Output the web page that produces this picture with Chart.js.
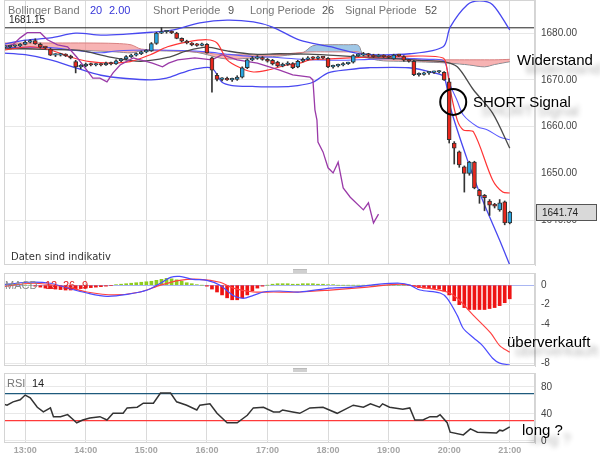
<!DOCTYPE html>
<html>
<head>
<meta charset="utf-8">
<script src="https://cdn.jsdelivr.net/npm/chart.js@4.4.1/dist/chart.umd.min.js"></script>
<style>
  body { margin: 0; background: #fff; }
  #wrap { position: relative; width: 600px; height: 455px; overflow: hidden; font-family: 'Liberation Sans', Arial, sans-serif; }
  canvas { position: absolute; left: 0; }
  .lbl { position: absolute; white-space: nowrap; line-height: 12px; }
  .note { position: absolute; white-space: nowrap; font-size: 15px; line-height: 16px; color: #000;
          text-shadow: 8px 9px 5px rgba(0,0,0,0.3); }
  .handle { position: absolute; left: 293px; width: 14px; height: 3px; background: #d0d0d0; border-top: 1px solid #bbb; }
</style>
</head>
<body>
<div id="wrap">
  <canvas id="main" width="600" height="268" style="top:0"></canvas>
  <canvas id="macd" width="600" height="100" style="top:268px"></canvas>
  <canvas id="rsi" width="600" height="87" style="top:368px"></canvas>

  <div class="lbl" style="left:8px;top:4px;font-size:11px;color:#777">Bollinger Band</div>
  <div class="lbl" style="left:90px;top:4px;font-size:11px;color:#3535d8">20</div>
  <div class="lbl" style="left:109px;top:4px;font-size:11px;color:#3535d8">2.00</div>
  <div class="lbl" style="left:153px;top:4px;font-size:11px;color:#777">Short Periode</div>
  <div class="lbl" style="left:228px;top:4px;font-size:11px;color:#555">9</div>
  <div class="lbl" style="left:250px;top:4px;font-size:11px;color:#777">Long Periode</div>
  <div class="lbl" style="left:322px;top:4px;font-size:11px;color:#555">26</div>
  <div class="lbl" style="left:345px;top:4px;font-size:11px;color:#777">Signal Periode</div>
  <div class="lbl" style="left:425px;top:4px;font-size:11px;color:#555">52</div>
  <div class="lbl" style="left:9px;top:14px;font-size:10px;color:#222">1681.15</div>
  <div class="lbl" style="left:11px;top:251px;font-size:10px;color:#333;font-family:'DejaVu Sans'">Daten sind indikativ</div>

  <div class="lbl" style="left:5px;top:279px;font-size:11px;color:#888">MACD</div>
  <div class="lbl" style="left:45px;top:279px;font-size:11px;color:#e02020">12</div>
  <div class="lbl" style="left:63px;top:279px;font-size:11px;color:#e02020">26</div>
  <div class="lbl" style="left:82px;top:279px;font-size:11px;color:#e02020">9</div>
  <div class="lbl" style="left:7px;top:377px;font-size:11px;color:#777">RSI</div>
  <div class="lbl" style="left:32px;top:377px;font-size:11px;color:#222">14</div>

  <div class="handle" style="top:269px"></div>
  <div class="handle" style="top:368px"></div>

  <div class="note" style="left:517px;top:52px">Widerstand</div>
  <div class="note" style="left:473px;top:94px">SHORT Signal</div>
  <div class="note" style="left:507px;top:334px">überverkauft</div>
  <div class="note" style="left:522px;top:422px">long ?</div>
</div>

<script>
// ---- Achsen ----
const xMin = 39, xMax = 565;   // Minuten seit 12:00
const hourTimes = [60, 120, 180, 240, 300, 360, 420, 480, 540];
const hourLabels = ['13:00', '14:00', '15:00', '16:00', '17:00', '18:00', '19:00', '20:00', '21:00'];
const priceTicks = [1640, 1650, 1660, 1670, 1680];
const macdTicks = [0, -2, -4, -6, -8];
const macdTickLabels = ['0', '-2', '-4', '', '-8'];
const rsiTicks = [0, 40, 80];
const dayHigh = 1681.15;
const lastClose = 1641.74;
const signalTime = 484, signalPrice = 1665.3;

// ---- Kerzen (5 Minuten) ----
const candleTimes = [40,45,50,55,60,65,70,75,80,85,90,95,100,105,110,115,120,125,130,135,
  140,145,150,155,160,165,170,175,180,185,190,195,200,205,210,215,220,225,230,235,
  240,245,250,255,260,265,270,275,280,285,290,295,300,305,310,315,320,325,330,335,
  340,345,350,355,360,365,370,375,380,385,390,395,400,405,410,415,420,425,430,435,
  440,445,450,455,460,465,470,475,480,485,490,495,500,505,510,515,520,525,530,535,540];
const opens = [1677.0,1677.1,1677.2,1677.3,1677.6,1678.1,1678.4,1677.6,1677.0,1676.6,
  1675.3,1675.3,1675.4,1675.1,1673.9,1672.8,1673.0,1673.4,1673.2,1673.3,
  1673.2,1673.6,1673.4,1674.1,1674.5,1675.0,1675.3,1675.6,1676.0,1676.2,
  1677.8,1680.0,1680.3,1680.3,1680.0,1678.9,1678.3,1677.9,1677.5,1677.4,
  1677.6,1674.7,1671.0,1670.1,1670.2,1670.0,1670.1,1670.6,1672.6,1674.3,
  1674.6,1674.8,1674.4,1674.2,1673.8,1673.0,1673.3,1673.5,1672.8,1674.0,
  1674.4,1674.7,1674.6,1674.8,1674.6,1672.8,1673.0,1673.2,1673.5,1673.8,
  1675.2,1675.3,1675.5,1675.3,1675.0,1675.2,1675.0,1674.5,1675.3,1675.0,
  1674.2,1674.0,1671.1,1671.2,1671.5,1671.6,1671.7,1671.6,1669.6,1656.5,
  1654.6,1651.4,1650.0,1652.4,1646.4,1645.3,1644.1,1643.4,1642.2,1643.9,
  1639.4];
const highs = [1677.3,1677.4,1677.5,1677.8,1678.4,1678.6,1678.8,1677.9,1677.2,1676.8,
  1675.6,1675.7,1675.6,1675.3,1674.2,1673.3,1673.6,1673.6,1673.5,1673.5,
  1673.8,1673.8,1674.3,1674.6,1675.2,1675.5,1675.8,1676.2,1676.5,1678.0,
  1680.2,1681.2,1680.6,1680.5,1680.2,1679.0,1678.5,1678.0,1677.8,1677.9,
  1677.8,1674.9,1671.4,1670.5,1670.6,1670.4,1670.9,1672.8,1674.5,1675.0,
  1675.2,1675.0,1674.6,1674.4,1674.0,1673.6,1673.9,1673.7,1674.2,1674.7,
  1675.0,1675.0,1675.1,1675.0,1674.8,1673.2,1673.4,1673.7,1673.8,1675.4,
  1675.6,1675.9,1675.7,1675.5,1675.5,1675.4,1675.2,1675.5,1675.5,1675.2,
  1674.4,1674.2,1671.5,1671.7,1671.8,1671.9,1672.0,1671.8,1670.3,1656.8,
  1654.8,1651.6,1652.6,1652.6,1646.6,1645.5,1644.4,1643.6,1644.4,1644.1,
  1641.9];
const lows = [1676.8,1676.9,1677.0,1677.1,1677.5,1677.9,1677.6,1676.8,1676.6,1675.2,
  1675.0,1675.1,1675.0,1674.5,1671.5,1672.4,1672.8,1673.0,1673.0,1673.0,
  1673.1,1673.2,1673.3,1673.9,1674.3,1674.8,1675.1,1675.4,1675.8,1676.1,
  1677.6,1679.9,1680.0,1679.9,1678.8,1678.1,1677.7,1677.3,1677.2,1677.3,
  1675.7,1667.4,1669.8,1669.8,1669.9,1669.7,1669.9,1670.4,1672.4,1674.1,
  1674.4,1674.2,1673.8,1673.2,1672.8,1672.8,1673.1,1672.4,1672.6,1673.8,
  1674.2,1674.4,1674.4,1674.5,1672.6,1672.5,1672.8,1673.0,1673.3,1673.6,
  1675.0,1675.1,1675.0,1674.8,1674.9,1674.8,1674.6,1674.4,1675.0,1674.0,
  1673.8,1670.9,1670.8,1671.0,1671.2,1671.4,1671.5,1669.9,1656.5,1652.0,
  1651.3,1646.0,1649.6,1646.7,1643.6,1642.0,1641.0,1642.6,1641.9,1639.0,
  1639.2];
const closes = [1677.1,1677.2,1677.3,1677.6,1678.1,1678.3,1677.7,1677.0,1676.9,1675.3,
  1675.3,1675.4,1675.2,1674.7,1672.8,1673.0,1673.4,1673.2,1673.3,1673.2,
  1673.6,1673.4,1674.1,1674.5,1675.0,1675.3,1675.6,1676.0,1676.2,1677.8,
  1680.0,1680.3,1680.3,1680.1,1678.9,1678.3,1677.9,1677.5,1677.4,1677.6,
  1675.8,1672.1,1670.1,1670.2,1670.0,1670.1,1670.6,1672.6,1674.3,1674.6,
  1674.8,1674.4,1674.0,1673.4,1673.0,1673.3,1673.6,1672.6,1674.0,1674.4,
  1674.7,1674.6,1674.8,1674.7,1672.8,1673.0,1673.2,1673.5,1673.6,1675.2,
  1675.3,1675.5,1675.3,1675.0,1675.2,1675.0,1674.8,1675.3,1675.2,1674.2,
  1674.0,1671.1,1671.2,1671.5,1671.6,1671.7,1671.8,1670.0,1657.2,1655.4,
  1651.8,1650.0,1652.4,1646.9,1645.2,1644.8,1643.2,1643.0,1643.7,1639.4,
  1641.74];

// ---- Bollinger Band 20 / 2.00 ----
const bbUpperTimes = [35,60,85,110,135,160,185,207,233,260,286,305,332,362,382,402,441,474,481,498,510,523,540];
const bbUpper = [1677.5,1678.5,1679.0,1680.0,1679.6,1679.8,1680.2,1680.7,1682.2,1682.8,1682.4,1681.3,1678.5,1677.1,1676.0,1675.4,1675.6,1677.1,1681.3,1686.1,1686.9,1686.1,1680.7];
const bbMidTimes = [35,60,85,110,135,150,185,215,240,260,285,310,340,370,400,430,460,475,481,488,494,508,518,530,540];
const bbMid = [1676.9,1677.0,1676.9,1676.3,1675.8,1676.2,1676.4,1676.3,1676.0,1675.5,1675.0,1674.8,1674.3,1674.2,1674.4,1674.6,1674.4,1674.0,1669.0,1665.5,1662.5,1660.0,1659.3,1657.8,1657.2];
const bbLowerTimes = [35,60,85,110,135,160,185,200,215,230,245,255,265,285,310,330,345,360,380,400,440,465,475,481,498,513,530,540];
const bbLower = [1675.8,1675.4,1674.3,1672.6,1671.0,1670.3,1670.0,1670.4,1671.5,1672.4,1672.5,1669.5,1668.8,1668.6,1668.5,1668.8,1669.5,1671.5,1672.2,1672.6,1672.6,1671.5,1670.6,1664.2,1652.9,1644.3,1635.7,1630.4];

// ---- Short 9 / Long 26 / Signal 52 ----
const shortTimes = [40,65,85,105,124,144,164,184,201,220,240,250,260,273,286,300,319,332,342,362,382,402,421,441,474,478,481,488,494,504,523,533,540];
const shortMa = [1676.4,1677.1,1676.4,1674.9,1673.9,1673.6,1673.9,1675.4,1677.1,1678.1,1678.6,1677.9,1674.3,1672.6,1671.7,1672.1,1673.2,1673.6,1674.3,1674.5,1674.7,1674.9,1674.9,1675.1,1674.7,1672.1,1667.9,1661.4,1659.3,1658.9,1648.6,1646.0,1645.8];
const longTimes = [35,60,85,114,144,174,201,220,240,260,286,312,340,370,400,430,450,474,488,504,523,540];
const longMa = [1676.8,1676.7,1676.5,1676.3,1674.9,1674.0,1674.8,1676.2,1677.0,1676.2,1675.5,1675.6,1675.5,1675.2,1674.8,1674.5,1674.2,1673.9,1672.8,1667.9,1662.9,1655.4];
const signalTimes = [35,48,55,62,75,82,92,102,111,121,127,134,141,147,154,167,186,196,202,211,228,245,255,270,290,312,325,342,345,347,349,350,355,360,365,370,375,382,395,400,405,410];
const signalMa = [1676.8,1677.6,1679.0,1680.1,1680.1,1678.6,1677.5,1677.1,1674.9,1672.1,1670.4,1670.4,1669.6,1671.5,1673.2,1674.7,1673.6,1672.8,1673.6,1674.3,1674.7,1674.3,1675.4,1674.3,1673.6,1672.1,1671.1,1670.6,1670.0,1663.6,1661.4,1656.7,1654.6,1651.2,1650.1,1652.4,1646.9,1644.9,1642.2,1643.7,1639.4,1641.3];

// ---- Wolke ----
const cloudTimes = [35,60,90,120,150,165,175,200,230,255,270,290,305,320,335,345,360,380,390,395,410,430,445,460,480,500,515,525,540];
const spanA = [1677.9,1677.9,1677.9,1677.9,1677.8,1677.5,1676.6,1676.3,1676.0,1675.4,1675.4,1675.3,1675.4,1675.6,1675.9,1676.0,1676.0,1676.0,1676.0,1675.4,1675.2,1675.0,1674.4,1674.3,1674.3,1674.3,1674.3,1674.3,1674.4];
const spanB = [1676.5,1676.6,1676.5,1676.3,1676.0,1675.8,1676.2,1676.2,1675.9,1674.6,1674.5,1674.8,1675.0,1675.3,1675.8,1677.3,1677.5,1677.5,1677.4,1675.2,1674.2,1674.0,1673.9,1673.8,1673.6,1673.2,1672.8,1673.3,1673.9];

// ---- MACD 12 26 9 ----
const macdTimes = [35,62,85,102,121,141,161,181,194,204,213,226,240,253,266,276,286,296,312,332,362,385,411,431,441,451,471,478,488,494,504,513,523,530,540];
const macdLine = [0,0.3,0.2,-0.3,-0.8,-1.15,-0.95,-0.5,0.2,0.8,0.9,0.6,0.5,0,-1.05,-1.35,-1.05,-0.7,-0.6,-0.7,-0.3,-0.2,0.1,0.2,0,-0.5,-0.8,-1.35,-3.1,-4.45,-5.4,-6.2,-7.5,-8.0,-8.2];
const macdSigTimes = [35,68,102,121,148,174,194,213,233,253,266,286,306,332,362,399,431,451,478,488,504,521,530,540];
const macdSignal = [-0.2,0.2,-0.2,-0.7,-1.0,-0.7,0,0.5,0.6,0.3,-0.3,-0.7,-0.7,-0.7,-0.5,-0.2,0.1,-0.2,-0.7,-1.35,-3.1,-4.9,-6.2,-6.9];
const macdHist = [0.05,0.1,0.1,0.05,0,0,-0.1,-0.2,-0.3,-0.35,
  -0.4,-0.45,-0.5,-0.5,-0.45,-0.35,-0.3,-0.25,-0.2,-0.15,
  -0.1,-0.05,0.05,0.1,0.15,0.2,0.25,0.3,0.35,0.4,
  0.5,0.6,0.7,0.65,0.55,0.4,0.25,0.15,0.05,0,
  -0.1,-0.4,-0.7,-1.0,-1.3,-1.5,-1.5,-1.3,-1.0,-0.6,
  -0.3,-0.1,0,0.1,0.15,0.15,0.15,0.1,0.1,0.15,
  0.15,0.15,0.1,0.1,0.05,0.05,0,0,0,0,
  0,0,0,0,0,0,0,0,0,0,
  0,-0.1,-0.25,-0.3,-0.35,-0.35,-0.4,-0.6,-1.0,-1.6,
  -2.0,-2.3,-2.5,-2.5,-2.5,-2.5,-2.4,-2.3,-2.1,-1.8,
  -1.4];

// ---- RSI 14 ----
const rsiTimes = [35,42,48,55,60,65,72,78,85,88,95,102,108,111,117,124,134,141,147,157,161,171,177,187,194,204,210,220,230,233,243,250,260,270,280,286,296,306,312,315,325,332,342,355,369,385,395,402,411,414,421,434,441,446,454,461,468,471,478,481,494,501,508,527,530,533,540];
const rsiValues = [56,53,58,61,68,64,50,43,49,36,36,39,31,27,31,34,36,31,41,41,49,50,56,56,71,71,58,53,46,53,55,41,27,27,38,49,50,43,43,46,43,41,49,50,41,53,50,55,50,55,50,47,49,31,31,36,36,39,27,13,9,18,13,12,16,15,21];
const rsiHigh = 70, rsiLow = 30;

// ---------------------------------------------------------
Chart.defaults.font.family = "'Liberation Sans', Arial, sans-serif";
const RED = '#e8271c', CYAN = '#27a4e0';

const pts = (ts, vs) => ts.map((t, i) => ({ x: t, y: vs[i] }));

function lineDs(ts, vs, color, width, order, extra) {
  return Object.assign({
    type: 'line', data: pts(ts, vs), borderColor: color, borderWidth: width,
    pointRadius: 0, tension: 0.3, fill: false, order: order
  }, extra || {});
}

function hLine(value, color, width, order) {
  return lineDs([xMin, xMax], [value, value], color, width, order, { tension: 0 });
}

function xScale(showLabels, h) {
  return {
    type: 'linear', min: xMin, max: xMax, offset: false,
    grid: { color: '#dadada', offset: false, drawTicks: false },
    border: { display: false },
    ticks: {
      display: showLabels, color: '#a5a5a5', padding: 2, autoSkip: false, maxRotation: 0,
      font: { size: 9, weight: 'bold' },
      callback: (v, i) => hourLabels[i]
    },
    afterBuildTicks: s => { s.ticks = hourTimes.map(v => ({ value: v })); },
    afterFit: s => { s.height = h; s.paddingLeft = 0; s.paddingRight = 0; }
  };
}

function yScale(min, max, ticks, fmt, gridColor) {
  return {
    position: 'right', min: min, max: max,
    grid: { color: gridColor || '#e8e8e8', drawTicks: false },
    border: { color: '#d6d6d6' },
    ticks: { color: '#444', padding: 6, font: { size: 10 }, callback: fmt },
    afterBuildTicks: s => { s.ticks = ticks.map(v => ({ value: v })); },
    afterFit: s => { s.width = 65; s.paddingTop = 0; s.paddingBottom = 0; }
  };
}

const frame = {
  id: 'frame',
  afterDraw(chart) {
    const a = chart.chartArea, c = chart.ctx;
    c.save();
    c.strokeStyle = '#d4d4d4';
    c.lineWidth = 1;
    c.strokeRect(a.left + 0.5, a.top + 0.5, a.right - a.left - 1, a.bottom - a.top - 1);
    c.restore();
  }
};

// Kursmarke rechts
const priceTag = {
  id: 'priceTag',
  afterDraw(chart) {
    const c = chart.ctx, x = chart.chartArea.right;
    const y = Math.round(chart.scales.y.getPixelForValue(lastClose));
    c.save();
    c.fillStyle = '#d9d9d9';
    c.fillRect(x + 1, y - 8, 61, 17);
    c.strokeStyle = '#555';
    c.lineWidth = 1;
    c.strokeRect(x + 1.5, y - 7.5, 60, 16);
    c.fillStyle = '#222';
    c.font = "10px 'Liberation Sans', Arial";
    c.textBaseline = 'middle';
    c.fillText(lastClose.toFixed(2), x + 7, y + 1);
    c.restore();
  }
};

const baseOptions = (padTop) => ({
  responsive: false, animation: false,
  layout: { autoPadding: false, padding: { left: 4, top: padTop, right: 0, bottom: 0 } },
  plugins: { legend: { display: false }, tooltip: { enabled: false } }
});

// ---- Hauptchart ----
new Chart(document.getElementById('main'), {
  type: 'line',
  data: {
    datasets: [
      { type: 'line', data: [{ x: signalTime, y: signalPrice }], showLine: false,
        pointRadius: 13, pointBorderWidth: 2, pointBorderColor: '#000',
        pointBackgroundColor: 'rgba(0,0,0,0)', order: 0 },
      { type: 'bar', data: candleTimes.map((t, i) => ({ x: t, y: [opens[i], closes[i]] })),
        backgroundColor: closes.map((c, i) => c >= opens[i] ? CYAN : RED),
        borderColor: '#333', borderWidth: 1, borderSkipped: false,
        barThickness: 4, minBarLength: 1.5, grouped: false, order: 1 },
      { type: 'bar', data: candleTimes.map((t, i) => ({ x: t, y: [lows[i], highs[i]] })),
        backgroundColor: '#333', barThickness: 1, grouped: false, order: 2 },
      lineDs(signalTimes, signalMa, '#9a3aa8', 1.3, 3, { tension: 0 }),
      lineDs(shortTimes, shortMa, '#ff3434', 1.2, 4),
      lineDs(longTimes, longMa, '#4a4a4a', 1.3, 5),
      lineDs(bbUpperTimes, bbUpper, '#4848f0', 1.3, 6),
      lineDs(bbMidTimes, bbMid, '#5a5aff', 1.1, 6),
      lineDs(bbLowerTimes, bbLower, '#4848f0', 1.3, 6),
      hLine(dayHigh, '#222', 1, 7),
      lineDs(cloudTimes, spanA, '#d98080', 1, 9, {
        fill: { target: '+1', above: 'rgba(241,128,128,0.6)', below: 'rgba(128,180,222,0.75)' }
      }),
      lineDs(cloudTimes, spanB, '#808080', 1, 10)
    ]
  },
  options: Object.assign(baseOptions(0), {
    scales: {
      x: xScale(false, 3),
      y: yScale(1630.4, 1687.1, priceTicks, v => v.toFixed(2))
    }
  }),
  plugins: [frame, priceTag]
});

// ---- MACD ----
new Chart(document.getElementById('macd'), {
  type: 'line',
  data: {
    datasets: [
      lineDs(macdTimes, macdLine, '#4b4bff', 1.2, 0),
      lineDs(macdSigTimes, macdSignal, '#ff4141', 1.2, 1),
      { type: 'bar', data: candleTimes.map((t, i) => ({ x: t, y: macdHist[i] })),
        backgroundColor: macdHist.map(v => v >= 0 ? '#8fcc1f' : '#ee1414'),
        barThickness: 3, grouped: false, order: 2 }
    ]
  },
  options: Object.assign(baseOptions(5), {
    scales: {
      x: xScale(false, 2),
      y: yScale(-8.3, 1.25, macdTicks, (v, i) => macdTickLabels[i],
        ctx => ctx.tick && ctx.tick.value === 0 ? '#a9b6f2' : '#e8e8e8')
    }
  }),
  plugins: [frame]
});

// ---- RSI ----
new Chart(document.getElementById('rsi'), {
  type: 'line',
  data: {
    datasets: [
      lineDs(rsiTimes, rsiValues, '#333', 1.5, 0, { tension: 0 }),
      hLine(rsiHigh, '#1e5a7c', 1.2, 1),
      hLine(rsiLow, '#ff3a3a', 1.2, 1)
    ]
  },
  options: Object.assign(baseOptions(5), {
    scales: {
      x: xScale(true, 12),
      y: yScale(-3, 100.7, rsiTicks, v => String(v))
    }
  }),
  plugins: [frame]
});
</script>
</body>
</html>
